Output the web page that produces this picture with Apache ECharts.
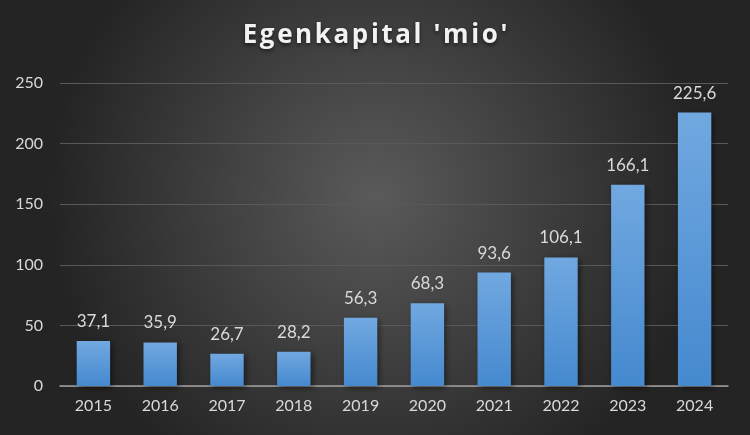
<!DOCTYPE html>
<html><head><meta charset="utf-8">
<script src="https://cdn.jsdelivr.net/npm/echarts@6/dist/echarts.min.js"></script>
<style>html,body{margin:0;padding:0;}#c{width:750px;height:435px;}</style>
</head><body><div id="c"></div>
<script>
const categories = ['2015','2016','2017','2018','2019','2020','2021','2022','2023','2024'];
const values = [37.1, 35.9, 26.7, 28.2, 56.3, 68.3, 93.6, 106.1, 166.1, 225.6];
const title = "Egenkapital 'mio'";
const chart = echarts.init(document.getElementById('c'));
chart.setOption({
  backgroundColor: {type:'radial', x:0.5, y:0.45, r:0.75, colorStops:[{offset:0,color:'#5a5a5a'},{offset:1,color:'#242424'}]},
  title: {text: title.split('').join('\u200a'), left:'center', top:18,
    textStyle:{color:'#f2f2f2', fontFamily:'Open Sans', fontWeight:'bold', fontSize:26,
      textShadowColor:'rgba(0,0,0,0.6)', textShadowBlur:4, textShadowOffsetY:2}},
  grid: {left:60, right:22, top:83, bottom:49},
  xAxis: {type:'category', data:categories,
    axisLine:{lineStyle:{color:'#a0a0a0', width:1.5}}, axisTick:{show:false},
    axisLabel:{color:'#d9d9d9', fontFamily:'Lato', fontSize:16, margin:12}},
  yAxis: {type:'value', min:0, max:250, interval:50,
    axisLine:{show:false}, axisTick:{show:false},
    splitLine:{lineStyle:{color:'#595959', width:1.2}},
    axisLabel:{color:'#d9d9d9', fontFamily:'Lato', fontSize:16, margin:17}},
  series: [{type:'bar', data:values, barWidth:'50%',
    itemStyle:{color:{type:'linear',x:0,y:0,x2:0,y2:1,colorStops:[{offset:0,color:'#71a8e0'},{offset:1,color:'#4589cf'}]},
      shadowColor:'rgba(0,0,0,0.5)', shadowBlur:6, shadowOffsetX:2, shadowOffsetY:2},
    label:{show:true, position:'top', distance:11, color:'#d9d9d9', fontFamily:'Lato', fontSize:17,
      formatter:p=>p.value.toFixed(1).replace('.',',')}}]
});
</script></body></html>
